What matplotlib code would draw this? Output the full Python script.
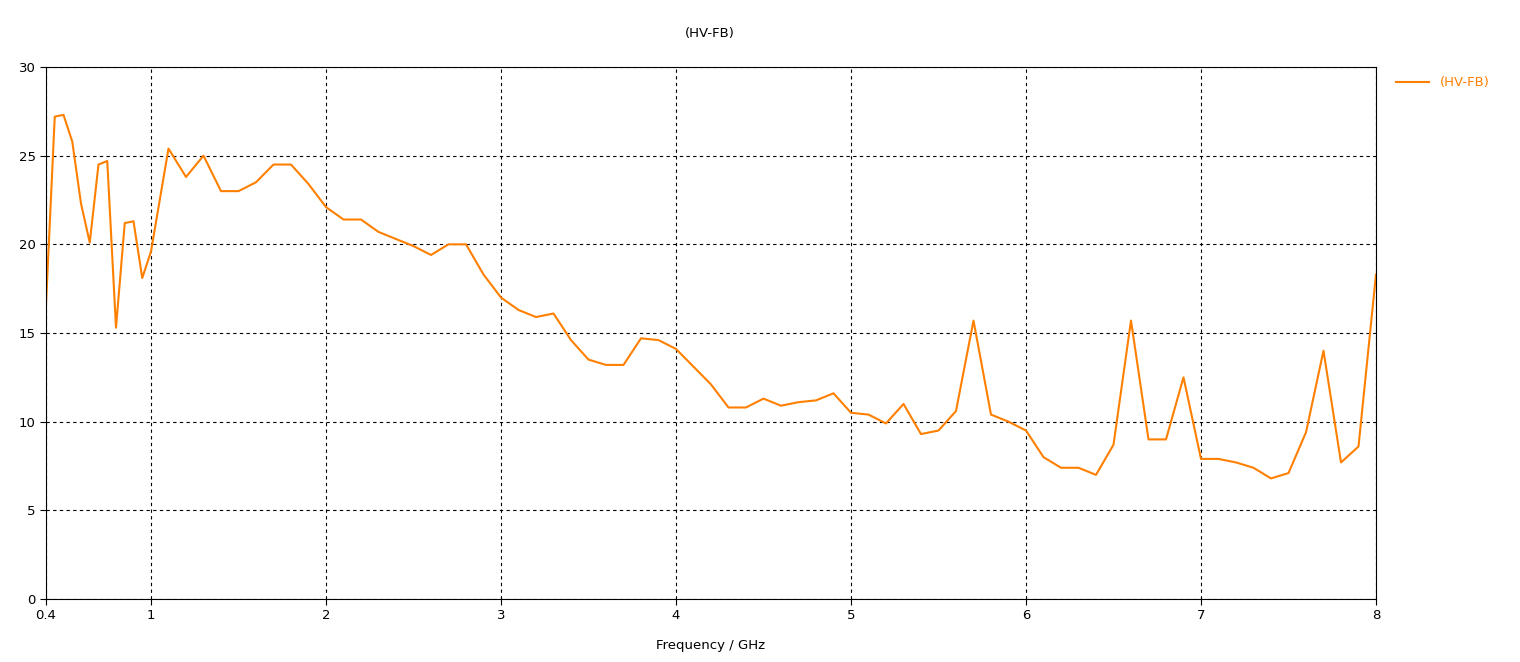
import matplotlib
matplotlib.use("Agg")
import matplotlib.pyplot as plt

freq = [0.4,0.45,0.5,0.55,0.6,0.65,0.7,0.75,0.8,0.85,0.9,0.95,1.0,
        1.1,1.2,1.3,1.4,1.5,1.6,1.7,1.8,1.9,2.0,2.1,2.2,2.3,2.4,2.5,2.6,2.7,2.8,2.9,
        3.0,3.1,3.2,3.3,3.4,3.5,3.6,3.7,3.8,3.9,4.0,4.1,4.2,4.3,4.4,4.5,4.6,4.7,4.8,4.9,
        5.0,5.1,5.2,5.3,5.4,5.5,5.6,5.7,5.8,5.9,6.0,6.1,6.2,6.3,6.4,6.5,6.6,6.7,6.8,6.9,
        7.0,7.1,7.2,7.3,7.4,7.5,7.6,7.7,7.8,7.9,8.0]
fb = [16.6,27.2,27.3,25.8,22.3,20.1,24.5,24.7,15.3,21.2,21.3,18.1,19.6,
      25.4,23.8,25.0,23.0,23.0,23.5,24.5,24.5,23.4,22.1,21.4,21.4,20.7,20.3,19.9,19.4,20.0,20.0,18.3,
      17.0,16.3,15.9,16.1,14.6,13.5,13.2,13.2,14.7,14.6,14.1,13.1,12.1,10.8,10.8,11.3,10.9,11.1,11.2,11.6,
      10.5,10.4,9.9,11.0,9.3,9.5,10.6,15.7,10.4,10.0,9.5,8.0,7.4,7.4,7.0,8.7,15.7,9.0,9.0,12.5,
      7.9,7.9,7.7,7.4,6.8,7.1,9.4,14.0,7.7,8.6,18.3]
xticks = [0.4,1,2,3,4,5,6,7,8]
xticklabels = ["0.4","1","2","3","4","5","6","7","8"]
yticks = [0,5,10,15,20,25,30]

plt.rcParams['font.family'] = ['DejaVu Sans']
fig = plt.figure(figsize=(15.2,6.62), dpi=100)
ax = fig.add_axes([46/1520, 1-599/662, (1376-46)/1520, (599-67)/662])
ax.plot(freq, fb, color='#ff8000', lw=1.5, label='(HV-FB)')
ax.set_xlim(0.4, 8)
ax.set_ylim(0, 30)
ax.set_xticks(xticks)
ax.set_xticklabels(xticklabels)
ax.set_yticks(yticks)
ax.grid(True, color='black', linestyle=(0,(3,3)), lw=0.8)
ax.tick_params(labelsize=9.5, direction='out', length=4)
ax.set_xlabel('Frequency / GHz', fontsize=9.5, labelpad=12)
fig.text(710/1520, 1-33/662, '(HV-FB)', ha='center', va='center', fontsize=9.5)
leg = ax.legend(loc='upper left', bbox_to_anchor=(1.006, 1.005), frameon=False, fontsize=9.5,
                handlelength=2.5)
for t in leg.get_texts():
    t.set_color('#ff8000')
fig.savefig('out.png', dpi=100)
